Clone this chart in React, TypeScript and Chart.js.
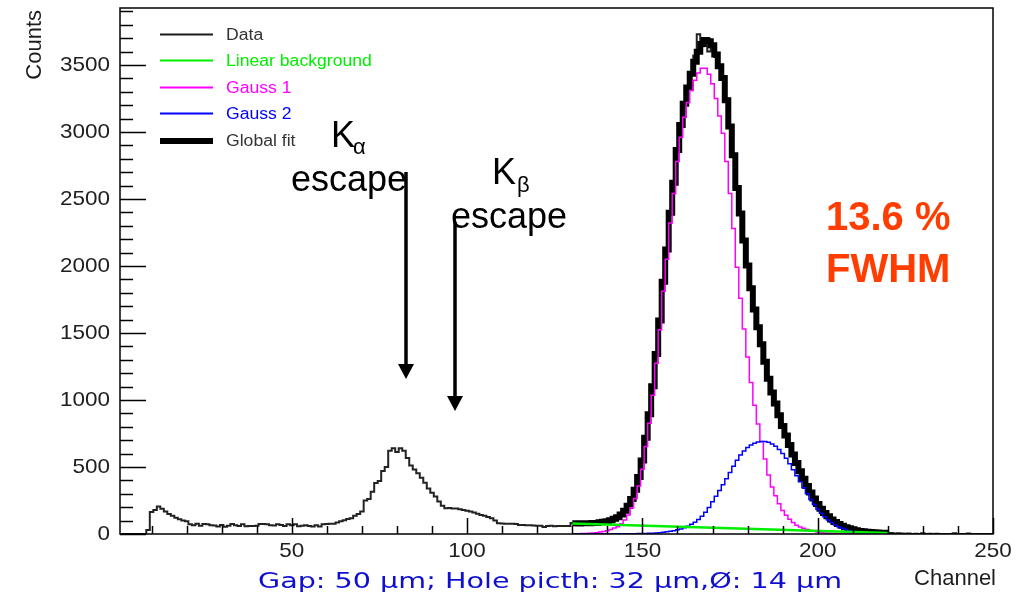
import { useEffect, useRef } from 'react';
import { Chart, registerables } from 'chart.js';

Chart.register(...registerables);

// ---- data ----
const dataFirstChannel = 1;
const dataCounts = [
  0, 0, 0, 0, 0, 0, 0, 0, 30, 165,
  180, 205, 188, 168, 150, 136, 122, 110, 100, 96,
  72, 65, 76, 62, 75, 72, 65, 64, 56, 68,
  54, 62, 74, 66, 60, 72, 58, 60, 60, 62,
  75, 75, 72, 66, 64, 72, 68, 60, 72, 66,
  72, 58, 62, 66, 60, 56, 66, 56, 72, 75,
  76, 76, 86, 95, 102, 112, 118, 136, 150, 168,
  250, 262, 316, 380, 396, 470, 500, 622, 640, 612,
  640, 622, 568, 512, 482, 454, 420, 382, 340, 308,
  280, 242, 210, 192, 194, 190, 190, 185, 180, 174,
  167, 160, 152, 142, 136, 126, 117, 100, 80, 78,
  76, 76, 76, 74, 68, 67, 66, 66, 64, 62,
  62, 52, 60, 62, 58, 60, 60, 60, 60, 82,
  78, 84, 80, 86, 82, 88, 90, 95, 92, 100,
  108, 115, 130, 142, 178, 205, 270, 325, 430, 545,
  725, 885, 1110, 1335, 1600, 1870, 2130, 2390, 2630, 2850,
  3040, 3220, 3340, 3430, 3570, 3730, 3640, 3690, 3600, 3650,
  3560, 3480, 3400, 3250, 3050, 2830, 2590, 2380, 2200, 1995,
  1840, 1670, 1550, 1410, 1290, 1150, 1060, 965, 890, 800,
  740, 660, 598, 525, 472, 410, 362, 305, 268, 220,
  190, 155, 135, 106, 92, 72, 63, 50, 44, 33,
  30, 22, 21, 16, 15, 12, 12, 9, 10, 6,
  8, 4, 6, 3, 2, 4, 0, 2, 0, 5,
  0, 1, 0, 2, 0, 0, 0, 0, 6, 0,
  0, 0, 3, 0, 0, 0, 0, 0, 0, 0,
];

const fitFirstChannel = 130;
const gauss1Counts = [
  1, 2, 2, 3, 4, 6, 8, 10, 14, 19,
  25, 33, 44, 55, 76, 104, 142, 195, 264, 358,
  483, 652, 827, 1035, 1275, 1525, 1811, 2050, 2320, 2540,
  2780, 2960, 3110, 3220, 3310, 3385, 3440, 3475, 3475, 3430,
  3360, 3250, 3120, 2990, 2780, 2540, 2280, 1990, 1760, 1530,
  1320, 1130, 960, 820, 690, 560, 440, 350, 285, 225,
  175, 140, 110, 85, 66, 52, 42, 34, 26, 20,
  15, 11, 8, 6, 4, 3, 2, 2, 1, 1,
  1, 0, 0, 0, 0, 0, 0, 0, 0, 0, 0,
];
const gauss2Counts = [
  0, 0, 0, 0, 0, 0, 0, 0, 0, 0,
  0, 0, 1, 1, 1, 2, 2, 2, 2, 3,
  3, 4, 5, 6, 8, 10, 13, 16, 20, 25,
  31, 38, 47, 58, 72, 88, 108, 132, 162, 198,
  240, 282, 325, 368, 412, 458, 505, 550, 590, 620,
  645, 665, 678, 686, 690, 690, 684, 672, 655, 630,
  600, 565, 525, 480, 435, 390, 345, 300, 258, 220,
  185, 155, 128, 105, 85, 68, 54, 42, 33, 25,
  19, 14, 10, 7, 5, 4, 3, 2, 1, 1, 0,
];
const globalFitCounts = [
  80, 80, 79, 80, 80, 81, 82, 83, 87, 91,
  96, 103, 114, 125, 145, 173, 210, 262, 331, 425,
  549, 718, 893, 1102, 1343, 1594, 1882, 2123, 2397, 2621,
  2866, 3052, 3210, 3331, 3434, 3524, 3598, 3656, 3686, 3676,
  3647, 3578, 3490, 3403, 3236, 3041, 2827, 2581, 2391, 2190,
  2004, 1833, 1675, 1543, 1416, 1285, 1158, 1055, 973, 887,
  806, 735, 664, 594, 529, 469, 413, 359, 309, 264,
  223, 188, 157, 132, 109, 90, 74, 61, 51, 42,
  35, 28, 23, 20, 17, 15, 13, 11, 10, 9, 7,
];
const backgroundChannels = [130, 220];
const backgroundCounts = [79, 7];

const xTickLabels = [50, 100, 150, 200, 250];
const yTickLabels = [0, 500, 1000, 1500, 2000, 2500, 3000, 3500];
const xRange = [1, 250];
const yRange = [0, 3925];

const seriesLabels = ['Data', 'Linear background', 'Gauss 1', 'Gauss 2', 'Global fit'];
const seriesColors = ['#1a1a1a', '#00ee00', '#ff00ff', '#0000ff', '#000000'];

const FONT = '"Liberation Sans", Arial, sans-serif';

function toPoints(first: number, values: number[]) {
  return values.map((v, i) => ({ x: first + i, y: v }));
}

function drawText(
  ctx: CanvasRenderingContext2D,
  text: string,
  x: number,
  y: number,
  font: string,
  color: string,
  align: CanvasTextAlign = 'left',
  baseline: CanvasTextBaseline = 'alphabetic',
  sx = 1,
) {
  ctx.save();
  ctx.font = font;
  ctx.fillStyle = color;
  ctx.textAlign = align;
  ctx.textBaseline = baseline;
  ctx.translate(x, y);
  ctx.scale(sx, 1);
  ctx.fillText(text, 0, 0);
  ctx.restore();
}

function drawArrow(ctx: CanvasRenderingContext2D, x: number, y0: number, y1: number) {
  ctx.save();
  ctx.strokeStyle = '#000';
  ctx.fillStyle = '#000';
  ctx.lineWidth = 3.5;
  ctx.beginPath();
  ctx.moveTo(x, y0);
  ctx.lineTo(x, y1 - 12);
  ctx.stroke();
  ctx.beginPath();
  ctx.moveTo(x - 8, y1 - 15);
  ctx.lineTo(x + 8, y1 - 15);
  ctx.lineTo(x, y1);
  ctx.closePath();
  ctx.fill();
  ctx.restore();
}

const decorPlugin = {
  id: 'rootDecor',
  afterDraw(chart: any) {
    const ctx: CanvasRenderingContext2D = chart.ctx;
    const { left, right, top, bottom } = chart.chartArea;
    const xs = chart.scales.x;
    const ys = chart.scales.y;

    ctx.save();
    // frame
    ctx.strokeStyle = '#000';
    ctx.lineWidth = 1.5;
    ctx.strokeRect(left, top, right - left, bottom - top);

    // y ticks (inside)
    ctx.lineWidth = 1.5;
    for (let v = 0; v <= 3900; v += 100) {
      const y = Math.round(ys.getPixelForValue(v)) + 0.5;
      const len = v % 500 === 0 ? 26 : 13;
      ctx.beginPath();
      ctx.moveTo(left, y);
      ctx.lineTo(left + len, y);
      ctx.stroke();
    }
    // x ticks (inside)
    for (let v = 10; v <= 250; v += 10) {
      const x = Math.round(xs.getPixelForValue(v)) + 0.5;
      const len = v % 50 === 0 ? 16 : 8;
      ctx.beginPath();
      ctx.moveTo(x, bottom);
      ctx.lineTo(x, bottom - len);
      ctx.stroke();
    }
    ctx.restore();

    // tick labels
    for (const v of yTickLabels) {
      drawText(ctx, String(v), left - 10, ys.getPixelForValue(v), `21px ${FONT}`, '#1e1e1e', 'right', 'middle', 1.07);
    }
    for (const v of xTickLabels) {
      drawText(ctx, String(v), xs.getPixelForValue(v), bottom + 7, `21px ${FONT}`, '#1e1e1e', 'center', 'top', 1.07);
    }

    // axis titles
    ctx.save();
    ctx.translate(41, 10);
    ctx.rotate(-Math.PI / 2);
    ctx.font = `22px ${FONT}`;
    ctx.fillStyle = '#1e1e1e';
    ctx.textAlign = 'right';
    ctx.textBaseline = 'alphabetic';
    ctx.fillText('Counts', 0, 0);
    ctx.restore();
    drawText(ctx, 'Channel', 996, 585, `22px ${FONT}`, '#1e1e1e', 'right', 'alphabetic', 1.0);

    // legend
    const legendY = [34.5, 60.5, 87.5, 113.5, 141];
    seriesLabels.forEach((lab, i) => {
      const y = legendY[i];
      ctx.save();
      ctx.strokeStyle = seriesColors[i];
      ctx.lineWidth = i === 4 ? 6 : 2;
      ctx.beginPath();
      ctx.moveTo(160, y);
      ctx.lineTo(213, y);
      ctx.stroke();
      ctx.restore();
      drawText(ctx, lab, 226, y + 1, `16px ${FONT}`, i === 0 || i === 4 ? '#333' : seriesColors[i], 'left', 'middle', 1.1);
    });

    // K-alpha escape
    drawText(ctx, 'K', 331, 147, `36px ${FONT}`, '#000');
    drawText(ctx, 'α', 353, 154, `22px ${FONT}`, '#000');
    drawText(ctx, 'escape', 291, 191, `36px ${FONT}`, '#000');
    drawArrow(ctx, 406, 172, 379);

    // K-beta escape
    drawText(ctx, 'K', 492, 184, `36px ${FONT}`, '#000');
    drawText(ctx, 'β', 517, 192, `22px ${FONT}`, '#000');
    drawText(ctx, 'escape', 451, 228, `36px ${FONT}`, '#000');
    drawArrow(ctx, 455, 222, 411);

    // FWHM
    drawText(ctx, '13.6 %', 826, 230, `bold 40px ${FONT}`, '#ff3d00');
    drawText(ctx, 'FWHM', 826, 282, `bold 40px ${FONT}`, '#ff3d00');

    // caption
    ctx.save();
    const cap = 'Gap: 50 µm; Hole picth: 32 µm,Ø: 14 µm';
    ctx.font = `21px "DejaVu Sans", sans-serif`;
    const w = ctx.measureText(cap).width;
    ctx.restore();
    drawText(ctx, cap, 258, 588, `21px "DejaVu Sans", sans-serif`, '#0f0fd0', 'left', 'alphabetic', 584 / w);
  },
};

export default function App() {
  const ref = useRef<HTMLCanvasElement | null>(null);

  useEffect(() => {
    if (!ref.current) return;
    const common = { pointRadius: 0, fill: false, tension: 0, stepped: 'middle' as const };
    const chart = new Chart(ref.current, {
      type: 'line',
      data: {
        datasets: [
          {
            ...common,
            label: seriesLabels[1],
            data: backgroundChannels.map((c, i) => ({ x: c, y: backgroundCounts[i] })),
            borderColor: seriesColors[1],
            borderWidth: 2.5,
            stepped: false,
            order: 1,
          },
          {
            ...common,
            label: seriesLabels[3],
            data: toPoints(fitFirstChannel, gauss2Counts),
            borderColor: seriesColors[3],
            borderWidth: 1.5,
            order: 2,
          },
          {
            ...common,
            label: seriesLabels[2],
            data: toPoints(fitFirstChannel, gauss1Counts),
            borderColor: seriesColors[2],
            borderWidth: 1.5,
            order: 3,
          },
          {
            ...common,
            label: seriesLabels[4],
            data: toPoints(fitFirstChannel, globalFitCounts),
            borderColor: seriesColors[4],
            borderWidth: 6,
            order: 4,
          },
          {
            ...common,
            label: seriesLabels[0],
            data: toPoints(dataFirstChannel, dataCounts),
            borderColor: '#222',
            borderWidth: 2,
            order: 5,
          },
        ],
      },
      options: {
        responsive: false,
        animation: false,
        events: [],
        layout: { padding: { left: 120, right: 35, top: 8, bottom: 69 } },
        scales: {
          x: { type: 'linear', display: false, min: xRange[0], max: xRange[1] },
          y: { type: 'linear', display: false, min: yRange[0], max: yRange[1] },
        },
        plugins: { legend: { display: false }, tooltip: { enabled: false } },
      },
      plugins: [decorPlugin],
    });
    return () => chart.destroy();
  }, []);

  return (
    <div style={{ position: 'absolute', left: 0, top: 0, width: 1028, height: 603, background: '#fff' }}>
      <canvas ref={ref} width={1028} height={603} style={{ display: 'block' }} />
    </div>
  );
}
